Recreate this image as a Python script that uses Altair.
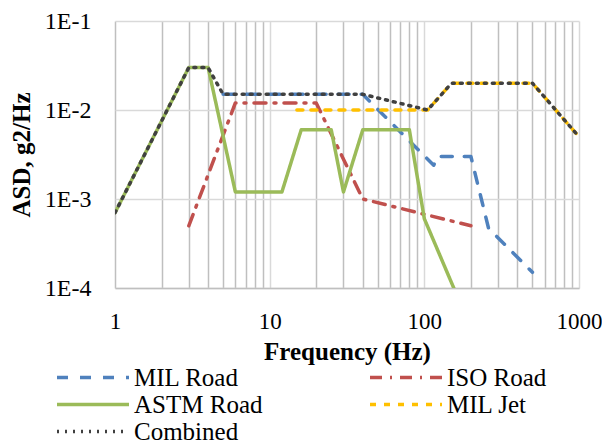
import altair as alt
import pandas as pd

series_names = ["MIL Road", "ISO Road", "ASTM Road", "MIL Jet", "Combined"]
series_colors = ["#4F81BD", "#C0504D", "#9BBB59", "#FFC000", "#404040"]
series_dashes = [[11, 12], [12, 8, 2, 8], [1, 0], [6, 8], [2, 6]]

mil_road_f = [5, 40, 115, 122, 200, 260, 500]
mil_road_a = [0.015, 0.015, 0.0024, 0.003, 0.003, 0.00047, 0.00015]

iso_road_f = [3, 6, 20, 40, 200]
iso_road_a = [0.0005, 0.012, 0.012, 0.001, 0.0005]

astm_road_f = [1, 3, 4, 6, 12, 16, 25, 30, 40, 80, 100, 155]
astm_road_a = [0.0007, 0.03, 0.03, 0.0012, 0.0012, 0.006, 0.006, 0.0012, 0.006, 0.006, 0.0006, 0.0001]

mil_jet_f = [15, 105, 150, 500, 1000]
mil_jet_a = [0.01, 0.01, 0.02, 0.02, 0.005]

combined_f = [1, 3, 4, 5, 40, 105, 150, 500, 1000]
combined_a = [0.0007, 0.03, 0.03, 0.015, 0.015, 0.01, 0.02, 0.02, 0.005]

x_ticks = [1, 2, 3, 4, 5, 6, 7, 8, 9, 10, 20, 30, 40, 50, 60, 70, 80, 90,
           100, 200, 300, 400, 500, 600, 700, 800, 900, 1000]
y_ticks = [0.0001, 0.001, 0.01, 0.1]

rows = []
for name, fs, as_ in [("MIL Road", mil_road_f, mil_road_a),
                      ("ISO Road", iso_road_f, iso_road_a),
                      ("ASTM Road", astm_road_f, astm_road_a),
                      ("MIL Jet", mil_jet_f, mil_jet_a),
                      ("Combined", combined_f, combined_a)]:
    for i, (f, a) in enumerate(zip(fs, as_)):
        rows.append({"series": name, "f": f, "asd": a, "idx": i})
df = pd.DataFrame(rows)

FONT = "Liberation Serif"

x_enc = alt.X("f:Q",
              scale=alt.Scale(type="log", domain=[1, 1000], nice=False),
              axis=alt.Axis(values=x_ticks,
                            labelExpr="indexof([1,10,100,1000], datum.value) >= 0 ? format(datum.value, 'd') : ''",
                            grid=True,
                            gridColor={"condition": {"test": "datum.value == 10 || datum.value == 100 || datum.value == 1000",
                                                     "value": "#d9d9d9"},
                                       "value": "#bfbfbf"},
                            gridWidth=1.5,
                            ticks=False,
                            domain=True, domainColor="#bfbfbf", domainWidth=1.5,
                            labelFont=FONT, labelFontSize=23, labelColor="black",
                            labelPadding=22, labelFlush=False, labelOverlap=False,
                            title="Frequency (Hz)", titleFont=FONT, titleFontSize=25,
                            titleFontWeight="bold", titleColor="black",
                            titleBaseline="alphabetic", titleY=71))

y_enc = alt.Y("asd:Q",
              scale=alt.Scale(type="log", domain=[0.0001, 0.1], nice=False),
              axis=alt.Axis(values=y_ticks,
                            labelExpr="'1E' + round(log(datum.value) / LN10)",
                            grid=True, gridColor="#d9d9d9", gridWidth=1.5,
                            ticks=False, domain=False,
                            labelFont=FONT, labelFontSize=24, labelColor="black",
                            labelPadding=24, labelOverlap=False,
                            title="ASD, g2/Hz", titleFont=FONT, titleFontSize=25,
                            titleFontWeight="bold", titleColor="black",
                            titleAngle=270, titleBaseline="alphabetic", titleX=-86))

color_enc = alt.Color("series:N",
                      scale=alt.Scale(domain=series_names, range=series_colors),
                      legend=alt.Legend(title=None, orient="none", direction="horizontal",
                                        legendX=-36, legendY=342.5,
                                        columns=2, columnPadding=100, rowPadding=-2,
                                        symbolType="M-3,0H3", symbolSize=576,
                                        symbolStrokeWidth=3.5, labelOffset=27,
                                        labelFont=FONT, labelFontSize=25, labelColor="black",
                                        labelLimit=300, padding=0))
dash_enc = alt.StrokeDash("series:N",
                          scale=alt.Scale(domain=series_names, range=series_dashes),
                          legend=None)

layers = []
for name in series_names:
    layers.append(
        alt.Chart(df)
        .transform_filter(alt.datum.series == name)
        .mark_line(strokeWidth=3.5, strokeCap="round", strokeJoin="round", clip=True)
        .encode(x=x_enc, y=y_enc, color=color_enc, strokeDash=dash_enc,
                order=alt.Order("idx:Q"))
    )

chart = alt.layer(*layers).properties(
    width=464, height=267,
    autosize=alt.AutoSizeParams(type="none"),
    padding={"left": 107, "top": 13, "right": 23, "bottom": 155},
    background="white",
).configure_view(stroke=None)

chart.save("out.html", embed_options={"renderer": "svg", "actions": False})
